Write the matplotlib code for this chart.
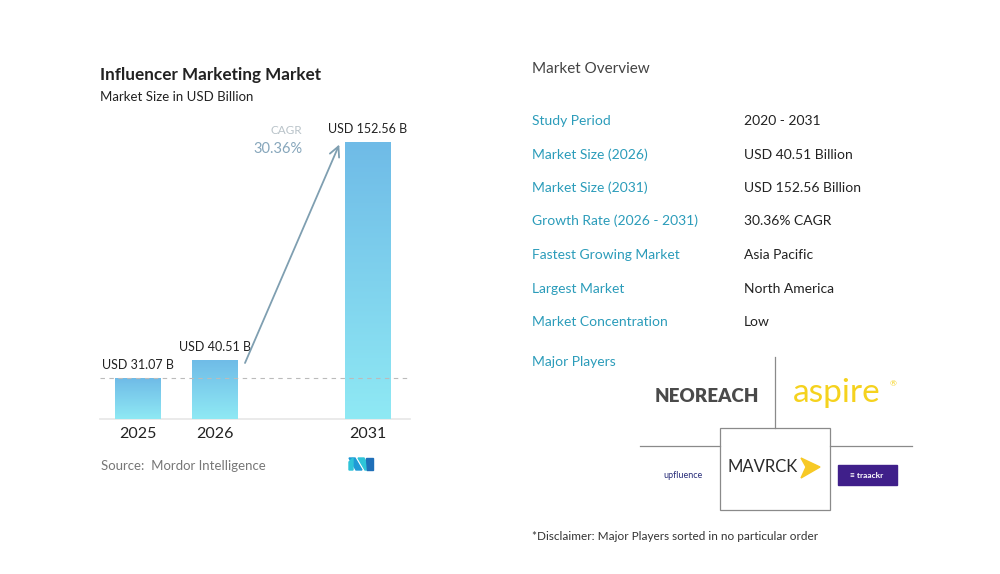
import matplotlib
matplotlib.use("Agg")
import matplotlib.pyplot as plt
import numpy as np
from matplotlib.patches import Rectangle, Polygon
from matplotlib.colors import LinearSegmentedColormap

plt.rcParams['font.family'] = ['Lato', 'DejaVu Sans']

# chart data
years = ["2025", "2026", "2031"]
positions = [0, 1, 3]
values = [31.07, 40.51, 152.56]
value_labels = ["USD 31.07 B", "USD 40.51 B", "USD 152.56 B"]
cagr_text = "30.36%"

# overview table
overview_labels = ["Study Period", "Market Size (2026)", "Market Size (2031)",
                   "Growth Rate (2026 - 2031)", "Fastest Growing Market",
                   "Largest Market", "Market Concentration"]
overview_values = ["2020 - 2031", "USD 40.51 Billion", "USD 152.56 Billion",
                   "30.36% CAGR", "Asia Pacific", "North America", "Low"]

W, H = 1000, 574
TEAL = "#2b9cba"
DARK = "#222222"
Y0 = 10


def fx(px):
    return px / W


def fy(py):
    return 1 - py / H


fig = plt.figure(figsize=(10, 5.74), dpi=100)
fig.patch.set_facecolor("white")

# bar chart axes
ax = fig.add_axes([fx(100), fy(419), fx(410) - fx(100), fy(142) - fy(419)])
for s in ax.spines.values():
    s.set_visible(False)
ax.set_xticks([])
ax.set_yticks([])

cmap = LinearSegmentedColormap.from_list("bar", ["#8fe9f4", "#6fbbe7"])
grad = np.linspace(0, 1, 256).reshape(-1, 1)
bars = ax.bar(positions, values, width=0.6, color="none", edgecolor="none")
for b in bars:
    x0 = b.get_x()
    x1, y1 = x0 + b.get_width(), b.get_height()
    im = ax.imshow(grad, cmap=cmap, origin="lower", aspect="auto",
                   extent=[x0, x1, Y0, y1], zorder=2)
    im.set_clip_path(b)
ax.set_xlim(-0.5, 3.55)
ax.set_ylim(Y0, max(values))

# baseline and dashed reference line
ax.axhline(Y0, color="#e6e6e6", lw=1.2, zorder=1, clip_on=False)
ax.axhline(values[0], color="#bbbbbb", lw=0.8, ls=(0, (4, 4)), zorder=3)

for p, v, lab, yr in zip(positions, values, value_labels, years):
    ax.annotate(lab, (p, v), xytext=(0, 5), textcoords="offset points",
                ha="center", va="bottom", fontsize=9, color=DARK,
                annotation_clip=False)
    ax.annotate(yr, (p, Y0), xytext=(0, -6),
                textcoords="offset points", ha="center", va="top",
                fontsize=11.5, color=DARK, annotation_clip=False)

# CAGR arrow
ax.annotate("", xy=(positions[2] - 0.36, values[2]),
            xytext=(positions[1] + 0.38, values[1] - 3),
            arrowprops=dict(arrowstyle="->", color="#7f9fb1", lw=1.3,
                            mutation_scale=18), annotation_clip=False)
fig.text(fx(302), fy(131), "CAGR", ha="right", va="center", fontsize=8.5,
         color="#b9c3c9")
fig.text(fx(303), fy(149), cagr_text, ha="right", va="center", fontsize=10.5,
         color="#86a6bb")

# titles and source
fig.text(fx(100), fy(75), "Influencer Marketing Market", fontsize=12.3,
         fontweight="bold", color=DARK, va="center")
fig.text(fx(100), fy(97), "Market Size in USD Billion", fontsize=9.5,
         color=DARK, va="center")
fig.text(fx(101), fy(466), "Source:  Mordor Intelligence", fontsize=9.5,
         color="#777777", va="center")

# small logo
for poly, col in [([(349, 458), (355, 458), (362, 470), (356, 470)], "#1f9ad6"),
                  ([(358, 458), (364, 458), (371, 470), (365, 470)], "#2ec4d8"),
                  ([(366, 458), (373, 458), (373, 470), (367, 470)], "#1f6fb8"),
                  ([(349, 462), (353, 458), (353, 470), (349, 470)], "#2ec4d8")]:
    fig.patches.append(Polygon([(fx(a), fy(b)) for a, b in poly], closed=True,
                               transform=fig.transFigure, color=col))

# market overview panel
fig.text(fx(532), fy(69), "Market Overview", fontsize=11, color="#444444",
         va="center")
row_y = [121, 155, 188, 221, 255, 289, 322]
for y, lab, val in zip(row_y, overview_labels, overview_values):
    fig.text(fx(532), fy(y), lab, fontsize=10, color=TEAL, va="center")
    fig.text(fx(744), fy(y), val, fontsize=10, color=DARK, va="center")
fig.text(fx(532), fy(362), "Major Players", fontsize=10, color=TEAL,
         va="center")

# players grid
line_col = "#8a8a8a"
fig.add_artist(plt.Line2D([fx(775), fx(775)], [fy(357), fy(428)],
                          color=line_col, lw=0.9))
fig.add_artist(plt.Line2D([fx(640), fx(720)], [fy(446), fy(446)],
                          color=line_col, lw=0.9))
fig.add_artist(plt.Line2D([fx(830), fx(912)], [fy(446), fy(446)],
                          color=line_col, lw=0.9))
fig.patches.append(Rectangle((fx(720), fy(510)), fx(110), fy(428) - fy(510),
                             transform=fig.transFigure, fill=False,
                             edgecolor=line_col, lw=0.9))

fig.text(fx(707), fy(396), "NEOREACH", fontsize=13.5, fontweight="heavy",
         color="#4a4a4a", ha="center", va="center")
fig.text(fx(837), fy(393), "aspire", fontsize=24, color="#f5d21e",
         ha="center", va="center")
fig.text(fx(893), fy(384), "®", fontsize=6, color="#f5d21e",
         ha="center", va="center")
fig.text(fx(683), fy(475), "upfluence", fontsize=6.5, color="#2a2f7a",
         ha="center", va="center")
fig.text(fx(763), fy(467), "MAVRCK", fontsize=12, color="#2a2a2a",
         ha="center", va="center")
fig.patches.append(Polygon([(fx(801), fy(458)), (fx(820), fy(467)),
                            (fx(801), fy(478)), (fx(806), fy(467))],
                           closed=True, transform=fig.transFigure,
                           color="#f7c925"))
fig.patches.append(Rectangle((fx(838), fy(485)), fx(59), fy(465) - fy(485),
                             transform=fig.transFigure, color="#3f1f8a"))
fig.text(fx(867), fy(475), "\u2261 traackr", fontsize=6, color="white",
         fontweight="bold", ha="center", va="center")

fig.text(fx(532), fy(537), "*Disclaimer: Major Players sorted in no particular order",
         fontsize=8.5, color="#333333", va="center")

fig.savefig("out.png", dpi=100, facecolor="white")
